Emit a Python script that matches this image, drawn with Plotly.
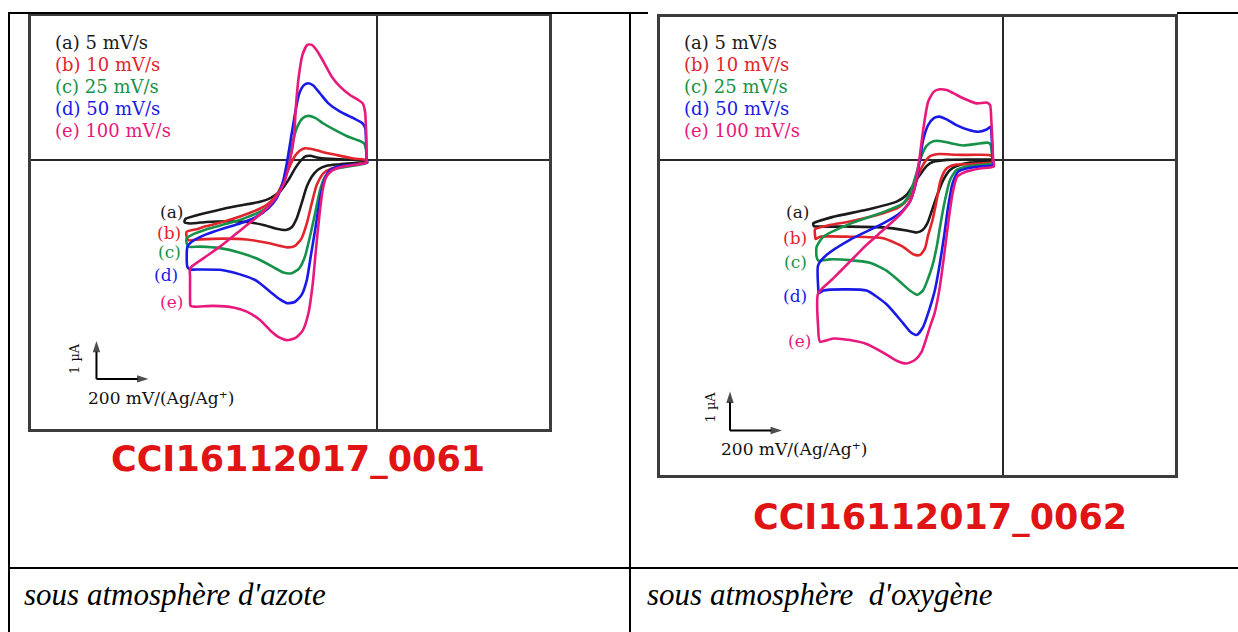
import plotly.graph_objects as go

W, H = 1238, 632

# ---------------------------------------------------------------------------
# Scan rates, curve letters and colours
# ---------------------------------------------------------------------------
letters = ["(a)", "(b)", "(c)", "(d)", "(e)"]
rates = ["5 mV/s", "10 mV/s", "25 mV/s", "50 mV/s", "100 mV/s"]
colors = ["#1b1b1b", "#e0262c", "#17924a", "#1a1ae6", "#e8197c"]

# ---------------------------------------------------------------------------
# Voltammograms under nitrogen (E in mV, I in µA, relative to the crosshair)
# ---------------------------------------------------------------------------
azote_a_E = [-738, -655, -553, -450, -412, -373, -341, -315, -296, -277, -258, -219, -142, -40, -40, -142,
             -194, -226, -251, -270, -290, -309, -328, -350, -386, -437, -501, -578, -655, -719, -740, -738]
azote_a_I = [-1.56, -1.39, -1.23, -1.10, -1.01, -0.83, -0.53, -0.22, -0.04, 0.09, 0.11, 0.05, 0.02, -0.02, -0.04,
             -0.11, -0.15, -0.25, -0.44, -0.70, -1.14, -1.54, -1.77, -1.84, -1.81, -1.71, -1.63, -1.61, -1.63,
             -1.67, -1.64, -1.56]

azote_b_E = [-732, -694, -655, -578, -488, -424, -386, -360, -337, -315, -296, -277, -251, -213, -155, -91, -40,
             -40, -117, -174, -206, -232, -251, -270, -290, -315, -341, -373, -424, -501, -591, -681, -726, -732,
             -732]
azote_b_I = [-1.89, -1.82, -1.74, -1.60, -1.39, -1.18, -0.92, -0.57, -0.18, 0.11, 0.25, 0.31, 0.29, 0.22, 0.13,
             0.04, 0.00, -0.05, -0.16, -0.22, -0.35, -0.66, -1.14, -1.67, -2.06, -2.26, -2.30, -2.26, -2.18, -2.09,
             -2.07, -2.09, -2.11, -2.02, -1.89]

azote_c_E = [-732, -706, -655, -578, -501, -437, -399, -373, -354, -337, -322, -306, -286, -264, -238, -206, -168,
             -117, -65, -50, -42, -40, -40, -117, -168, -200, -219, -238, -258, -277, -299, -328, -360, -399, -450,
             -527, -604, -681, -726, -732, -732]
azote_c_I = [-2.06, -1.95, -1.82, -1.68, -1.51, -1.32, -1.10, -0.79, -0.44, 0.00, 0.53, 0.88, 1.10, 1.16, 1.11,
             0.96, 0.81, 0.63, 0.50, 0.44, 0.26, 0.00, -0.07, -0.18, -0.25, -0.44, -0.79, -1.40, -2.02, -2.54, -2.85,
             -2.98, -2.96, -2.82, -2.63, -2.44, -2.32, -2.28, -2.28, -2.19, -2.06]

azote_d_E = [-729, -706, -655, -591, -527, -463, -418, -386, -363, -347, -332, -315, -299, -281, -264, -245, -219,
             -187, -142, -91, -55, -45, -42, -40, -37, -104, -155, -187, -206, -222, -238, -255, -270, -290, -315,
             -345, -373, -412, -463, -527, -604, -681, -719, -729, -729]
azote_d_I = [-2.28, -2.12, -1.95, -1.80, -1.67, -1.49, -1.27, -1.01, -0.61, -0.09, 0.53, 1.23, 1.75, 1.97, 2.02,
             1.96, 1.75, 1.49, 1.27, 1.10, 0.96, 0.83, 0.44, 0.00, -0.07, -0.13, -0.18, -0.31, -0.61, -1.14, -1.84,
             -2.54, -3.16, -3.55, -3.73, -3.77, -3.67, -3.46, -3.18, -3.01, -2.89, -2.88, -2.88, -2.82, -2.28]

azote_e_E = [-719, -668, -604, -540, -476, -424, -386, -358, -337, -319, -312, -301, -287, -268, -251, -232, -206,
             -174, -142, -104, -72, -55, -46, -42, -40, -40, -91, -142, -174, -196, -209, -222, -235, -247, -264,
             -286, -315, -347, -376, -405, -450, -501, -553, -629, -700, -717, -719, -719, -719]
azote_e_I = [-2.85, -2.59, -2.28, -1.93, -1.58, -1.27, -0.96, -0.61, -0.09, 0.61, 1.40, 2.19, 2.76, 3.03, 3.03,
             2.89, 2.59, 2.19, 1.93, 1.71, 1.58, 1.49, 1.27, 0.79, 0.00, -0.07, -0.13, -0.19, -0.28, -0.46, -0.79,
             -1.49, -2.37, -3.25, -4.04, -4.49, -4.69, -4.74, -4.67, -4.52, -4.21, -3.99, -3.88, -3.84, -3.86,
             -3.84, -3.60, -3.07, -2.85]

# ---------------------------------------------------------------------------
# Voltammograms under oxygen
# ---------------------------------------------------------------------------
oxy_a_E = [-730, -653, -525, -409, -371, -345, -320, -294, -268, -217, -127, -50, -40, -40, -76, -127, -179, -204,
           -230, -255, -275, -291, -309, -332, -371, -461, -589, -704, -727, -730]
oxy_a_I = [-1.64, -1.47, -1.29, -1.08, -0.91, -0.65, -0.40, -0.17, -0.06, -0.01, 0.00, 0.00, -0.01, -0.04, -0.06,
           -0.08, -0.17, -0.27, -0.53, -0.95, -1.34, -1.64, -1.81, -1.87, -1.82, -1.74, -1.72, -1.72, -1.71, -1.64]

oxy_b_E = [-723, -666, -589, -461, -397, -364, -339, -320, -300, -279, -243, -179, -102, -50, -40, -38, -38, -76,
           -127, -179, -217, -240, -255, -271, -288, -300, -320, -345, -384, -461, -589, -704, -721, -723, -723]
oxy_b_I = [-1.79, -1.68, -1.59, -1.38, -1.21, -1.00, -0.65, -0.31, -0.06, 0.09, 0.14, 0.12, 0.12, 0.11, 0.06,
           -0.01, -0.06, -0.10, -0.12, -0.13, -0.23, -0.53, -1.04, -1.55, -1.94, -2.28, -2.45, -2.43, -2.24, -2.02,
           -1.98, -1.98, -2.04, -1.94, -1.79]

oxy_c_E = [-717, -691, -589, -461, -384, -358, -335, -317, -294, -268, -236, -198, -153, -102, -57, -47, -43, -40,
           -38, -89, -140, -179, -204, -223, -240, -255, -271, -288, -307, -330, -358, -397, -448, -512, -589, -666,
           -711, -717, -717]
oxy_c_I = [-2.24, -1.98, -1.65, -1.35, -1.12, -0.87, -0.40, 0.03, 0.35, 0.47, 0.47, 0.41, 0.36, 0.40, 0.43, 0.37,
           0.16, -0.01, -0.10, -0.14, -0.18, -0.27, -0.53, -1.04, -1.64, -2.24, -2.71, -3.05, -3.35, -3.47, -3.36,
           -3.13, -2.85, -2.65, -2.58, -2.56, -2.59, -2.49, -2.24]

oxy_d_E = [-711, -679, -589, -461, -397, -358, -335, -320, -307, -288, -266, -245, -217, -179, -134, -95, -63, -48,
           -43, -40, -38, -89, -140, -172, -194, -211, -227, -245, -262, -284, -307, -332, -358, -384, -448, -525,
           -614, -691, -708, -711, -711]
oxy_d_I = [-2.71, -2.45, -2.06, -1.64, -1.38, -1.08, -0.61, -0.01, 0.50, 0.88, 1.06, 1.10, 1.03, 0.88, 0.76, 0.71,
           0.77, 0.84, 0.50, -0.01, -0.14, -0.18, -0.23, -0.31, -0.61, -1.21, -1.98, -2.75, -3.35, -3.86, -4.29,
           -4.50, -4.41, -4.20, -3.71, -3.36, -3.33, -3.36, -3.43, -3.26, -2.71]

oxy_e_E = [-711, -653, -589, -525, -461, -397, -358, -339, -322, -307, -288, -266, -243, -217, -191, -153, -102, -63,
           -50, -45, -40, -38, -35, -89, -140, -176, -194, -211, -227, -245, -263, -281, -297, -313, -339, -371,
           -409, -461, -525, -589, -653, -704, -711, -711]
oxy_e_I = [-3.43, -3.05, -2.62, -2.19, -1.81, -1.42, -1.08, -0.70, -0.01, 0.76, 1.48, 1.74, 1.80, 1.78, 1.70, 1.57,
           1.44, 1.46, 1.40, 1.01, 0.33, -0.01, -0.18, -0.23, -0.31, -0.44, -0.87, -1.64, -2.49, -3.35, -3.94,
           -4.29, -4.63, -4.93, -5.14, -5.23, -5.16, -4.95, -4.73, -4.63, -4.59, -4.67, -4.29, -3.43]

# scale bars: corner position (mV, µA) and bar lengths
bar_E = 200          # mV
bar_I = 1            # µA
azote_bar_corner = (-1079, -5.76)
oxy_bar_corner = (-1050, -6.95)

# text labels
titles = ["CCI16112017_0061", "CCI16112017_0062"]
conditions = ["sous atmosphère d'azote", "sous atmosphère\u00a0 d'oxygène"]

azote_curves = [(azote_a_E, azote_a_I), (azote_b_E, azote_b_I), (azote_c_E, azote_c_I),
                (azote_d_E, azote_d_I), (azote_e_E, azote_e_I)]
oxy_curves = [(oxy_a_E, oxy_a_I), (oxy_b_E, oxy_b_I), (oxy_c_E, oxy_c_I),
              (oxy_d_E, oxy_d_I), (oxy_e_E, oxy_e_I)]


def fx(p):
    return p / W


def fy(p):
    return 1 - p / H


# panel geometry in page pixels: plot box, crosshair, pixels per mV and per µA
panels = [
    dict(box=(30.8, 16.4, 548.9, 429.0), cross=(377.0, 160.0), kx=0.26, ky=38.0,
         curves=azote_curves, xa="x", ya="y", corner=azote_bar_corner,
         legend_x=53, label_pos=[(171, 211.6), (169, 233), (169, 252), (166, 275), (171, 301.5)],
         ua_pos=(74, 359), mv_pos=(161, 398), title_pos=(298, 458.5), cond_x=22),
    dict(box=(659.8, 16.8, 1174.5, 474.9), cross=(1003.0, 159.5), kx=0.26, ky=39.0,
         curves=oxy_curves, xa="x2", ya="y2", corner=oxy_bar_corner,
         legend_x=682, label_pos=[(797, 211.6), (795, 238), (795, 262), (795, 296), (799, 340.6)],
         ua_pos=(709.5, 407), mv_pos=(794, 449), title_pos=(940, 517), cond_x=645),
]

fig = go.Figure()
annotations = []
shapes = []
legend_y = [42.3, 64.5, 86.2, 108.2, 130.2]
serif = "DejaVu Serif"

axis_style = dict(showgrid=False, showticklabels=False, ticks="", zeroline=True,
                  zerolinecolor="#2a2a2a", zerolinewidth=2, showline=True, mirror=True,
                  linecolor="#3c3c3c", linewidth=3, fixedrange=True)

layout_axes = {}
for n, p in enumerate(panels):
    x0, y0, x1, y1 = p["box"]
    cx, cy = p["cross"]
    xname = "xaxis" if n == 0 else "xaxis2"
    yname = "yaxis" if n == 0 else "yaxis2"
    layout_axes[xname] = dict(domain=[fx(x0), fx(x1)],
                              range=[(x0 - cx) / p["kx"], (x1 - cx) / p["kx"]],
                              anchor=p["ya"], **axis_style)
    layout_axes[yname] = dict(domain=[fy(y1), fy(y0)],
                              range=[(cy - y1) / p["ky"], (cy - y0) / p["ky"]],
                              anchor=p["xa"], **axis_style)

    for k, (E, I) in enumerate(p["curves"]):
        fig.add_trace(go.Scatter(
            x=E, y=I, mode="lines", xaxis=p["xa"], yaxis=p["ya"],
            line=dict(color=colors[k], width=2.6, shape="spline", smoothing=0.6),
            hoverinfo="skip", showlegend=False))

        # scan-rate legend
        annotations.append(dict(
            xref="paper", yref="paper", x=fx(p["legend_x"]), y=fy(legend_y[k]),
            xanchor="left", yanchor="middle", showarrow=False,
            text=f"{letters[k]} {rates[k]}", font=dict(family=serif, size=18, color=colors[k])))
        # curve letters
        lx, ly = p["label_pos"][k]
        annotations.append(dict(
            xref="paper", yref="paper", x=fx(lx), y=fy(ly), xanchor="center", yanchor="middle",
            showarrow=False, text=letters[k], font=dict(family=serif, size=17, color=colors[k])))

    # scale bar arrows (drawn in data units)
    E0, I0 = p["corner"]
    for tip in [(E0, I0 + bar_I), (E0 + bar_E, I0)]:
        fig.add_trace(go.Scatter(
            x=[E0, tip[0]], y=[I0, tip[1]], mode="lines+markers",
            xaxis=p["xa"], yaxis=p["ya"],
            line=dict(color="#000000", width=2),
            marker=dict(symbol=["circle", "arrow"], size=[0, 12], color="#000000",
                        angleref="previous", line=dict(width=0)),
            hoverinfo="skip", showlegend=False))
    ux, uy = p["ua_pos"]
    annotations.append(dict(
        xref="paper", yref="paper", x=fx(ux), y=fy(uy), xanchor="center", yanchor="middle",
        showarrow=False, textangle=-90, text="1 µA", font=dict(family=serif, size=13, color="#111111")))
    mx, my = p["mv_pos"]
    annotations.append(dict(
        xref="paper", yref="paper", x=fx(mx), y=fy(my), xanchor="center", yanchor="middle",
        showarrow=False, text="200 mV/(Ag/Ag\u207a)",
        font=dict(family=serif, size=17, color="#111111")))

    # red file label under each plot
    tx, ty = p["title_pos"]
    annotations.append(dict(
        xref="paper", yref="paper", x=fx(tx), y=fy(ty), xanchor="center", yanchor="middle",
        showarrow=False, text=f"<b>{titles[n]}</b>",
        font=dict(family="DejaVu Sans", size=35, color="#e01414")))

    # condition caption in the lower row
    annotations.append(dict(
        xref="paper", yref="paper", x=fx(p["cond_x"]), y=fy(594), xanchor="left", yanchor="middle",
        showarrow=False, text=conditions[n],
        font=dict(family="Liberation Serif", size=31, color="#000000", style="italic")))

# table rules
table_lines = [
    (9, 13, 630, 13), (630, 13, 648, 13), (1177, 13, 1238, 13),
    (9, 12, 9, 632), (630, 12, 630, 632), (9, 568, 1238, 568),
]
for (a, b, c, d) in table_lines:
    shapes.append(dict(type="line", xref="paper", yref="paper",
                       x0=fx(a), y0=fy(b), x1=fx(c), y1=fy(d),
                       line=dict(color="#000000", width=2)))

fig.update_layout(
    width=W, height=H, margin=dict(l=0, r=0, t=0, b=0),
    paper_bgcolor="#ffffff", plot_bgcolor="#ffffff",
    showlegend=False, annotations=annotations, shapes=shapes,
    **layout_axes)

fig.write_html("out.html", config={"displayModeBar": False})
